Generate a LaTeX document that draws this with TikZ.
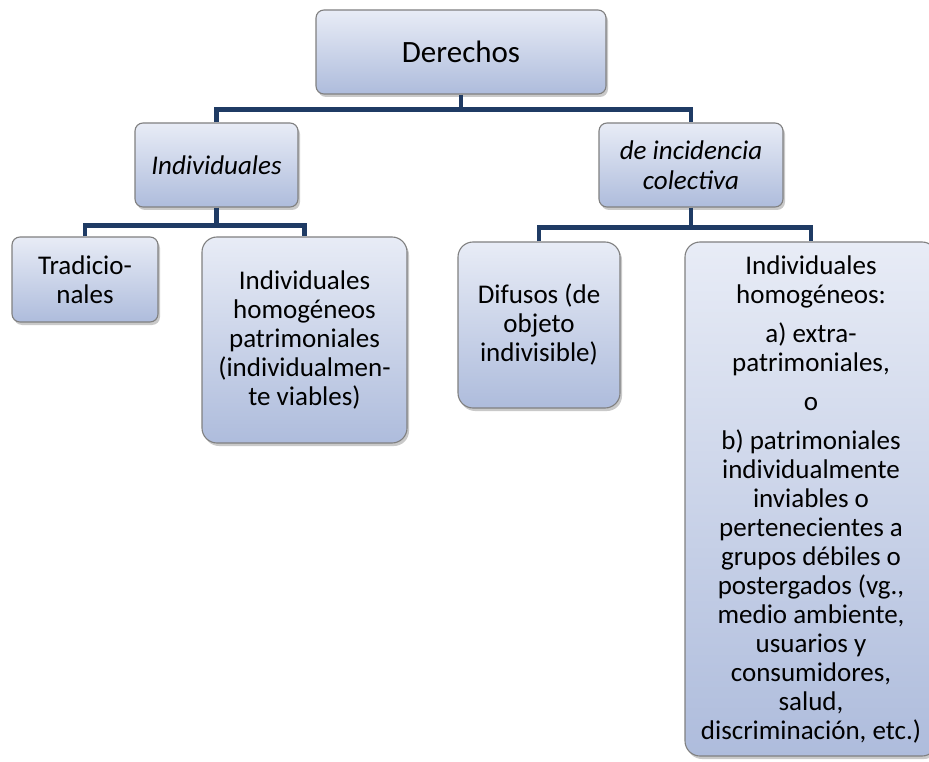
\documentclass[tikz,border=0pt]{standalone}
\usepackage{fontspec}
\setmainfont{Carlito}
\usetikzlibrary{shadows}
\definecolor{conncol}{HTML}{1F3B64}
\definecolor{boxtop}{HTML}{E8ECF6}
\definecolor{boxbot}{HTML}{AEBCDC}
\definecolor{boxline}{HTML}{808080}
\tikzset{
  box/.style={draw=boxline, line width=1.1pt, top color=boxtop, bottom color=boxbot,
    rounded corners=#1, align=center, inner sep=0pt,
    drop shadow={shadow xshift=2pt, shadow yshift=-3pt, opacity=0.3, fill=black!70},
    font=\fontsize{27}{29}\selectfont},
  box/.default=8pt,
  conn/.style={draw=conncol, line width=4.5pt, line join=miter}
}
\begin{document}
\begin{tikzpicture}[x=1pt,y=-1pt]
\useasboundingbox (0,0) rectangle (929,762);
\begin{scope}
\clip (0,0) rectangle (929,762);
\node[box, minimum width=290pt, minimum height=84pt, font=\fontsize{31}{34}\selectfont] (D) at (461,52) {Derechos};
\node[box, minimum width=163pt, minimum height=84pt] (I) at (216.5,165) {\itshape Individuales};
\node[box, minimum width=184pt, minimum height=84pt, font=\fontsize{27}{30}\selectfont] (C) at (691,165) {\itshape de incidencia\\\itshape colectiva};
\node[box, minimum width=146pt, minimum height=85pt] (T) at (85,279.5) {Tradicio-\\nales};
\node[box=15pt, minimum width=205pt, minimum height=206pt] (H) at (304.5,340) {Individuales\\homogéneos\\patrimoniales\\(individualmen-\\te viables)};
\node[box=15pt, minimum width=162pt, minimum height=166pt] (F) at (539,325) {Difusos (de\\objeto\\indivisible)};
\node[box=15pt, minimum width=252pt, minimum height=514pt] (R) at (811,499) {Individuales\\homogéneos:\\[10pt]a) extra-\\patrimoniales,\\[10pt]o\\[10pt]b) patrimoniales\\individualmente\\inviables o\\pertenecientes a\\grupos débiles o\\postergados (vg.,\\medio ambiente,\\usuarios y\\consumidores,\\salud,\\discriminación, etc.)};
\end{scope}
\draw[conn] (D.south) -- ++(0,15) coordinate (dj);
\draw[conn] (I.north) |- (dj) -| (C.north);
\draw[conn] (I.south) -- ++(0,18) coordinate (ij);
\draw[conn] (T.north) |- (ij) -| (H.north);
\draw[conn] (C.south) -- ++(0,20) coordinate (cj);
\draw[conn] (F.north) |- (cj) -| (R.north);
\end{tikzpicture}
\end{document}
